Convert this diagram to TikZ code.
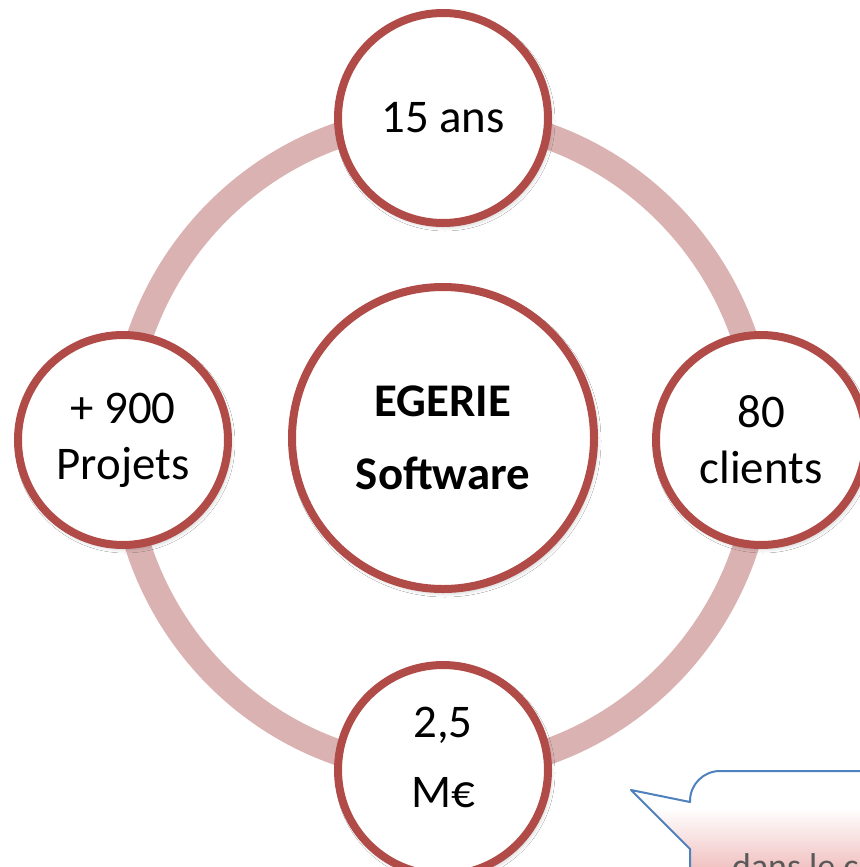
\documentclass[tikz,border=0pt]{standalone}
\usepackage{fontspec}
\setmainfont{Carlito}
\usetikzlibrary{shadows.blur}
\definecolor{ringc}{RGB}{219,178,178}
\definecolor{rimc}{RGB}{176,75,72}
\definecolor{calloutb}{RGB}{79,129,189}
\definecolor{calloutp}{RGB}{240,190,190}
\definecolor{grayt}{RGB}{89,89,89}
\begin{document}
\begin{tikzpicture}[x=1bp,y=-1bp,
  bubble/.style={circle, draw=rimc, line width=8bp, fill=white, inner sep=0pt,
    minimum size=210bp, align=center, font=\fontsize{47}{56}\selectfont,
    blur shadow={shadow xshift=2bp, shadow yshift=-3bp, shadow blur radius=5bp, shadow opacity=30}},
  bigbubble/.style={bubble, minimum size=302bp},
  ringline/.style={draw=ringc, line width=26bp},
  calloutline/.style={draw=calloutb, line width=2bp, line join=round}
]
\useasboundingbox (0,0) rectangle (860,867);
\begin{scope}
\clip (0,0) rectangle (860,867);
\fill[white] (0,0) rectangle (860,867);

% ring
\coordinate (ringc) at (442,444);
\draw[ringline] (ringc) ellipse [x radius=320, y radius=326];

% nodes
\node[bubble] (top) at (443,118) {15 ans};
\node[bubble] (left) at (123,440) {+ 900\\Projets};
\node[bubble] (right) at (761,440) {80\\clients};
\node[bubble, text depth=26bp] (bottom) at (443,770) {2,5\\[14bp]M€};
\node[bigbubble] (egerie) at (443,438) {\textbf{EGERIE}\\[17bp]\textbf{Software}};

% callout
\path[fill=white] (690,900) -- (690,849) -- (631,790) -- (690,802) -- (690,801)
  arc[start angle=180, end angle=270, radius=30] -- (900,771) -- (900,900) -- cycle;
\begin{scope}
\clip (690,900) -- (690,849) -- (631,790) -- (690,802) -- (690,801)
  arc[start angle=180, end angle=270, radius=30] -- (900,771) -- (900,900) -- cycle;
\shade[top color=white, bottom color=calloutp] (620,808) rectangle (900,872);
\fill[calloutp] (620,871) rectangle (900,900);
\end{scope}
\draw[calloutline] (690,900) -- (690,849) -- (631,790) -- (690,802) -- (690,801)
  arc[start angle=180, end angle=270, radius=30] -- (900,771);
\node[anchor=base west, inner sep=0pt, text=grayt, font=\fontsize{36}{40}\selectfont] (note) at (732,878) {dans le c};
\end{scope}
\end{tikzpicture}
\end{document}
